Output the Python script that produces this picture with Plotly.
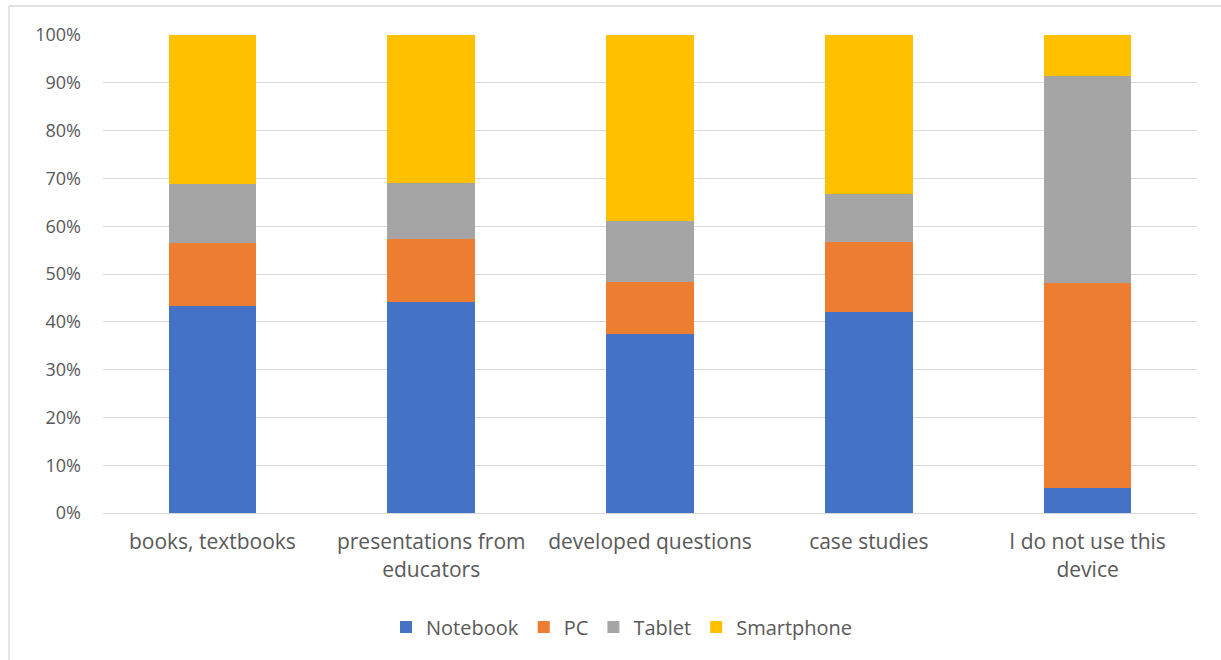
import plotly.graph_objects as go

categories = ["books, textbooks", "presentations from<br>educators", "developed questions",
              "case studies", "I do not use this<br>device"]
notebook = [43.3, 44.1, 37.4, 42.1, 5.2]
pc = [13.2, 13.3, 10.9, 14.7, 42.9]
tablet = [12.4, 11.6, 12.8, 10.0, 43.4]
smartphone = [31.1, 31.0, 38.9, 33.2, 8.5]
tick_vals = [0, 10, 20, 30, 40, 50, 60, 70, 80, 90, 100]
tick_text = [f"{v}%" for v in tick_vals]

series = [("Notebook", notebook, "#4472C4"), ("PC", pc, "#ED7D31"),
          ("Tablet", tablet, "#A5A5A5"), ("Smartphone", smartphone, "#FFC000")]

fig = go.Figure()
for name, vals, col in series:
    fig.add_trace(go.Bar(x=categories, y=vals, name=name, marker_color=col,
                         marker_line_width=0))

W, H = 1221, 660
L, R, T, B = 103, 24, 35, 147
pw, ph = W - L - R, H - T - B

def px(x):
    return (x - L) / pw

def py(y):
    return (H - B - y) / ph

FONT = "Open Sans, Lato, sans-serif"
FS = 21
fig.update_layout(
    width=W, height=H,
    margin=dict(l=L, r=R, t=T, b=B),
    barmode="stack", bargap=0.6,
    plot_bgcolor="white", paper_bgcolor="white",
    font=dict(family=FONT, size=FS, color="#595959"),
    yaxis=dict(range=[0, 100], tickvals=tick_vals, ticktext=tick_text,
               showgrid=True, gridcolor="#D9D9D9", gridwidth=1.3,
               zeroline=False, showline=False, ticks="", ticklen=0,
               ticklabelstandoff=21,
               tickfont=dict(family=FONT, size=18, color="#595959")),
    xaxis=dict(showline=True, linecolor="#D9D9D9", linewidth=1.3, ticks="",
               ticklabelstandoff=10,
               tickfont=dict(family=FONT, size=FS, color="#595959")),
    legend=dict(orientation="h", x=px(622), xanchor="center", y=py(627),
                yanchor="middle", font=dict(family=FONT, size=20, color="#595959"),
                traceorder="normal", itemwidth=30),
    shapes=[
        dict(type="line", xref="paper", yref="paper", x0=px(9), x1=px(1230),
             y0=py(6), y1=py(6), line=dict(color="#D9D9D9", width=1.3)),
        dict(type="line", xref="paper", yref="paper", x0=px(9), x1=px(9),
             y0=py(6), y1=py(670), line=dict(color="#D9D9D9", width=1.3)),
    ],
)

fig.write_html("out.html")
